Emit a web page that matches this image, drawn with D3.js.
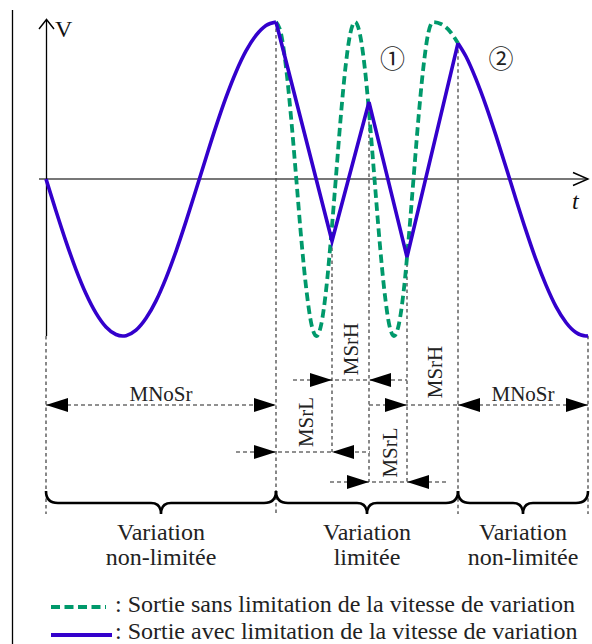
<!DOCTYPE html>
<html><head><meta charset="utf-8">
<script src="https://cdn.jsdelivr.net/npm/d3@7/dist/d3.min.js"></script>
<style>html,body{margin:0;padding:0;background:#fff;}svg{display:block;}</style>
</head><body>
<svg id="c" width="592" height="644"></svg>
<script>
// ---------------- data ----------------
// unlimited output, first (slow) part — shared by both outputs
const slowT = [0,1,2,3,4,5,6,7,7.67,8,9,10,11,12,13,14,15,16,17,18,19,20,21,22,23];
const slowV = [0,-0.2035,-0.3984,-0.5767,-0.7308,-0.854,-0.9424,-0.9906,-1,-0.9977,-0.9631,-0.8875,-0.776,-0.631,-0.4604,-0.27,-0.0684,0.1359,0.3349,0.5197,0.6819,0.8156,0.9148,0.9779,1];
// output without slew-rate limiting (fast part)
const fastT = [23,23.51,24.01,24.52,25.03,25.53,26.04,26.54,27.05,27.53,28.01,28.49,28.98,29.46,29.94,30.42,30.9,31.39,31.88,32.36,32.85,33.34,33.83,34.31,34.8,35.29,35.78,36.26,36.75,37.24,37.73,38.21,38.7,39.5,40.4,41.2];
const fastV = [1,0.924,0.707,0.383,0,-0.383,-0.707,-0.924,-1,-0.924,-0.707,-0.383,0,0.383,0.707,0.924,1,0.924,0.707,0.383,0,-0.383,-0.707,-0.924,-1,-0.924,-0.707,-0.383,0,0.383,0.707,0.924,1,0.987,0.94,0.865];
// output with slew-rate limiting (limited part)
const limitedT = [23,28.6,32.3,36.1,41.2];
const limitedV = [1,-0.395,0.49,-0.497,0.865];
// shared tail (slow again)
const tailT = [41.2,42,43,44,45,46,47,48,49,50,51,52,53,54,54.2];
const tailV = [0.865,0.78,0.636,0.466,0.276,0.075,-0.13,-0.329,-0.514,-0.676,-0.813,-0.914,-0.978,-1,-0.999];

const regionBounds = [0,23,41.2,54.2];
const regionLine1 = ["Variation","Variation","Variation"];
const regionLine2 = ["non-limitée","limitée","non-limitée"];

const measureLabels = ["MNoSr","MSrL","MSrH","MSrL","MSrH","MNoSr"];
const measureT0 = [0,23,28.6,32.3,36.1,41.2];
const measureT1 = [23,28.6,32.3,36.1,41.2,54.2];

const guideT = [0,23,28.6,32.3,36.1,41.2,54.2];

const markerLabels = ["\u2460","\u2461"];
const markerT = [34.65,45.5];

const legendLabels = [": Sortie sans limitation de la vitesse de variation",
                      ": Sortie avec limitation de la vitesse de variation"];
const axisLabels = ["V","t"];

// ---------------- layout / style ----------------
const BLUE = "#3300cc", GREEN = "#00996b", GUIDE = "#3a3a3a", SERIF = "'Liberation Serif','Times New Roman',serif";
const x = d3.scaleLinear().domain([0,54.2]).range([46,588]);
const y = d3.scaleLinear().domain([-1,1]).range([336,22]);
const svg = d3.select("#c");

const zip = (a,b)=>a.map((v,i)=>[v,b[i]]);
const blueAll = zip(slowT,slowV).concat(zip(limitedT,limitedV).slice(1), zip(tailT,tailV).slice(1));
const blueAt = t => blueAll.find(p=>Math.abs(p[0]-t)<1e-9)[1];

// left frame line
svg.append("line").attr("x1",12.5).attr("x2",12.5).attr("y1",10).attr("y2",644)
  .attr("stroke","#000").attr("stroke-width",1.3);

// vertical guides
const guideBottom = [514,514,452,482,482,514,514];
svg.append("g").selectAll("line").data(guideT).join("line")
  .attr("x1",d=>x(d)).attr("x2",d=>x(d))
  .attr("y1",d=>d===0? y(-1) : y(blueAt(d)))
  .attr("y2",(d,i)=>guideBottom[i])
  .attr("stroke",GUIDE).attr("stroke-width",1.2).attr("stroke-dasharray","3.5,3");

// axes
svg.append("line").attr("x1",39).attr("x2",x(54.2)).attr("y1",y(0)).attr("y2",y(0))
  .attr("stroke","#4a4a4a").attr("stroke-width",1.6);
svg.append("path").attr("d",`M${x(54.2)-15},${y(0)-6.5}L${x(54.2)},${y(0)}L${x(54.2)-15},${y(0)+6.5}`)
  .attr("fill","none").attr("stroke","#000").attr("stroke-width",1.4);
svg.append("line").attr("x1",x(0)+0.5).attr("x2",x(0)+0.5).attr("y1",20).attr("y2",y(-1))
  .attr("stroke","#000").attr("stroke-width",1.3);
svg.append("path").attr("d",`M${x(0)-7},29L${x(0)+0.5},19.5L${x(0)+8},29`)
  .attr("fill","none").attr("stroke","#000").attr("stroke-width",1.4);
svg.append("text").attr("x",55).attr("y",37).text(axisLabels[0])
  .attr("font-family",SERIF).attr("font-size",24).attr("fill","#111");
svg.append("text").attr("x",572).attr("y",209).text(axisLabels[1])
  .attr("font-family",SERIF).attr("font-style","italic").attr("font-size",24).attr("fill","#111");

// curves
const line = d3.line().x(d=>x(d[0])).y(d=>y(d[1])).curve(d3.curveMonotoneX);
const lineLin = d3.line().x(d=>x(d[0])).y(d=>y(d[1]));
svg.append("path").attr("d",line(zip(fastT,fastV))).attr("fill","none")
  .attr("stroke",GREEN).attr("stroke-width",3.8).attr("stroke-dasharray","8.5,4.5");
svg.append("path").attr("d",line(zip(slowT,slowV))).attr("fill","none")
  .attr("stroke",BLUE).attr("stroke-width",3.6).attr("stroke-linejoin","round");
svg.append("path").attr("d",lineLin(zip(limitedT,limitedV))).attr("fill","none")
  .attr("stroke",BLUE).attr("stroke-width",3.6).attr("stroke-linejoin","miter");
svg.append("path").attr("d",line(zip(tailT,tailV))).attr("fill","none")
  .attr("stroke",BLUE).attr("stroke-width",3.6);

// markers
svg.append("g").selectAll("text").data(markerLabels).join("text")
  .attr("x",(d,i)=>x(markerT[i])).attr("y",57).attr("text-anchor","middle").attr("dominant-baseline","central")
  .attr("font-family","'Noto Sans CJK JP','DejaVu Sans',sans-serif").attr("font-size",25).attr("fill","#222")
  .text(d=>d);

// dimension arrows
const measureY = [405,452,380,482,405,405];
const measureMode = ["out","in","in","in","in","out"];
const measureExt = [[0,0],[40,38],[39,38],[39,39],[38,0],[0,0]];
const measureRightArrow = [true,true,true,true,false,true];
const labelPos = [null,[313,422],[358,349],[397,452.5],[442,372],null];
const AL = 22, AW = 7;
const dim = svg.append("g");
function tri(tipX, yy, dir){ // dir: +1 points right, -1 points left
  dim.append("path").attr("d",`M${tipX},${yy}L${tipX-dir*AL},${yy-AW}L${tipX-dir*AL},${yy+AW}Z`).attr("fill","#000");
}
measureLabels.forEach((lab,i)=>{
  const x0 = x(measureT0[i]), x1 = x(measureT1[i]), yy = measureY[i];
  let a, b;
  if (measureMode[i]==="out"){ a=x0; b=x1; }
  else { a = x0-measureExt[i][0]; b = measureRightArrow[i] ? x1+measureExt[i][1] : x1; }
  dim.append("line").attr("x1",a).attr("x2",b).attr("y1",yy).attr("y2",yy)
    .attr("stroke","#222").attr("stroke-width",1.2).attr("stroke-dasharray","4,3");
  if (measureMode[i]==="out"){
    tri(x0,yy,-1); tri(x1,yy,1);
    dim.append("text").attr("x",(x0+x1)/2).attr("y",yy-4.5).attr("text-anchor","middle")
      .attr("font-family",SERIF).attr("font-size",21).attr("fill","#222").text(lab);
  } else {
    tri(x0,yy,1); if (measureRightArrow[i]) tri(x1,yy,-1);
    const p = labelPos[i];
    dim.append("text").attr("x",p[0]).attr("y",p[1]).attr("text-anchor","middle")
      .attr("transform",`rotate(-90,${p[0]},${p[1]})`)
      .attr("font-family",SERIF).attr("font-size",21).attr("fill","#222").text(lab);
  }
});

// braces
const BR_END = 491, BR_BODY = 503, BR_TIP = 514;
for (let i=0;i<3;i++){
  const a = x(regionBounds[i]), b = x(regionBounds[i+1]), m = (a+b)/2;
  const d = `M${a},${BR_END}Q${a},${BR_BODY} ${a+12},${BR_BODY}L${m-10},${BR_BODY}Q${m},${BR_BODY} ${m},${BR_TIP}`+
            `Q${m},${BR_BODY} ${m+10},${BR_BODY}L${b-12},${BR_BODY}Q${b},${BR_BODY} ${b},${BR_END}`;
  svg.append("path").attr("d",d).attr("fill","none").attr("stroke","#000").attr("stroke-width",2.6);
  svg.append("text").attr("x",m).attr("y",540).attr("text-anchor","middle")
    .attr("font-family",SERIF).attr("font-size",24).attr("fill","#222").text(regionLine1[i]);
  svg.append("text").attr("x",m).attr("y",565).attr("text-anchor","middle")
    .attr("font-family",SERIF).attr("font-size",24).attr("fill","#222").text(regionLine2[i]);
}

// legend
const lg = svg.append("g");
lg.append("line").attr("x1",51).attr("x2",106).attr("y1",607).attr("y2",607)
  .attr("stroke",GREEN).attr("stroke-width",3.8).attr("stroke-dasharray","9,4.5");
lg.append("line").attr("x1",51).attr("x2",112).attr("y1",635).attr("y2",635)
  .attr("stroke",BLUE).attr("stroke-width",4);
lg.selectAll("text").data(legendLabels).join("text")
  .attr("x",115).attr("y",(d,i)=>612+i*27).attr("font-family",SERIF).attr("font-size",24).attr("fill","#222")
  .text(d=>d);
</script>
</body></html>
